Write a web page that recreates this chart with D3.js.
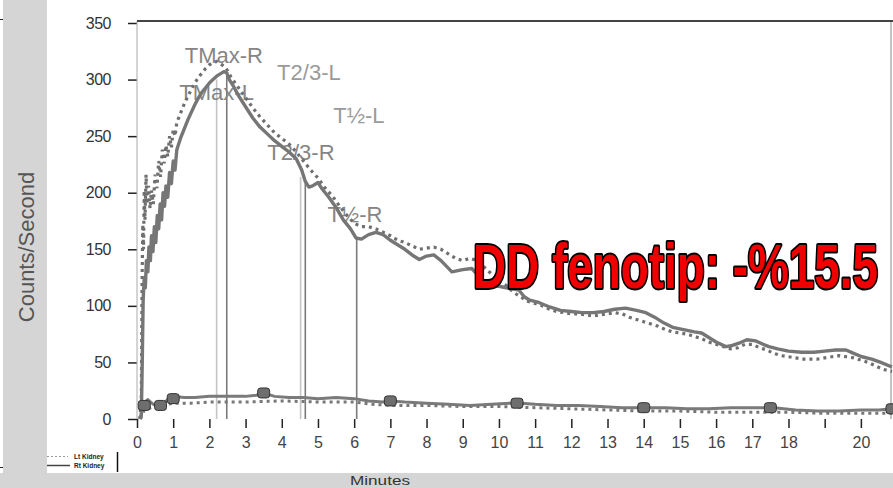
<!DOCTYPE html>
<html>
<head>
<meta charset="utf-8">
<script src="https://cdn.jsdelivr.net/npm/d3@7/dist/d3.min.js"></script>
<style>
  html, body { margin: 0; padding: 0; background: #fff; }
  svg { display: block; }
  .tick text { font-family: "Liberation Sans", Arial, sans-serif; }
</style>
</head>
<body>
<svg id="chart" width="893" height="488"></svg>
<script>
// Renogram: right kidney (solid) and left kidney (dotted), with background curves
const rightKidney = [
  [0.08,0],[0.12,3],[0.15,60],[0.17,105],[0.2,125],[0.23,116],[0.26,140],[0.3,130],[0.33,152],[0.37,140],
  [0.4,162],[0.44,148],[0.48,170],[0.52,156],[0.56,180],[0.6,168],[0.64,190],[0.68,176],[0.72,200],[0.76,188],
  [0.8,206],[0.85,196],[0.9,218],[0.95,208],[1.0,228],[1.05,220],[1.1,238],[1.2,248],[1.3,256],[1.4,264],
  [1.5,271],[1.6,278],[1.7,284],[1.8,289],[1.9,293],[2.0,297],[2.1,300],[2.2,303],[2.3,305],[2.4,307],
  [2.48,306],[2.55,300],[2.65,295],[2.8,286],[3.0,276],[3.2,266],[3.4,258],[3.6,252],[3.8,246],[4.0,241],
  [4.2,236],[4.4,230],[4.55,220],[4.65,210],[4.75,205],[4.85,206],[5.0,209],[5.1,204],[5.3,196],[5.5,187],
  [5.7,176],[5.9,168],[6.05,160],[6.2,159],[6.4,163],[6.6,165],[6.8,163],[7.0,158],[7.2,154],[7.4,150],
  [7.6,145],[7.8,141],[8.0,144],[8.2,145],[8.4,140],[8.7,130],[9.0,132],[9.25,133],[9.45,126],[9.65,120],
  [9.9,118],[10.2,116],[10.55,114],[10.7,108],[10.85,105],[11.1,103],[11.4,99],[11.7,96],[12.0,95],[12.3,94],
  [12.6,94],[12.9,95],[13.2,97],[13.5,98],[13.8,96],[14.06,94],[14.3,90],[14.55,85],[14.8,81],[15.1,79],
  [15.4,77],[15.6,76],[15.8,72],[16.0,68],[16.27,64],[16.45,65],[16.63,67],[16.85,70],[17.1,69],[17.3,66],
  [17.46,64],[17.7,62],[18.0,60],[18.37,59],[18.7,59],[19.0,60],[19.3,61],[19.59,61],[19.8,58],[20.03,55],
  [20.3,53],[20.55,50],[20.86,46]
];
const leftKidney = [
  [0.08,0],[0.12,20],[0.14,120],[0.16,172],[0.18,150],[0.2,202],[0.22,176],[0.25,216],[0.28,190],[0.32,206],
  [0.36,186],[0.4,202],[0.45,190],[0.5,216],[0.55,204],[0.6,228],[0.65,214],[0.7,238],[0.75,226],[0.8,242],
  [0.85,232],[0.9,250],[0.95,240],[1.0,256],[1.05,250],[1.1,262],[1.2,270],[1.3,278],[1.4,285],[1.5,291],
  [1.6,297],[1.7,302],[1.8,306],[1.9,310],[2.0,313],[2.1,315],[2.2,316],[2.3,314],[2.4,312],[2.5,308],
  [2.6,302],[2.8,293],[3.0,284],[3.2,275],[3.4,267],[3.6,260],[3.8,253],[4.0,248],[4.2,243],[4.4,236],
  [4.6,228],[4.8,220],[5.0,213],[5.2,204],[5.4,197],[5.6,188],[5.8,180],[6.0,173],[6.2,170],[6.4,170],
  [6.6,168],[6.8,165],[7.0,162],[7.2,158],[7.4,156],[7.6,153],[7.8,150],[8.0,151],[8.2,152],[8.4,150],
  [8.6,146],[8.8,142],[9.0,140],[9.2,142],[9.4,140],[9.6,134],[9.8,128],[10.0,122],[10.2,118],[10.4,112],
  [10.6,108],[10.8,104],[11.0,102],[11.2,100],[11.4,97],[11.6,95],[11.8,94],[12.0,93],[12.2,93],[12.4,92],
  [12.6,91],[12.8,92],[13.0,93],[13.2,94],[13.4,93],[13.6,90],[13.8,88],[14.0,86],[14.2,84],[14.4,82],
  [14.6,79],[14.8,77],[15.0,76],[15.2,75],[15.4,73],[15.6,71],[15.8,68],[16.0,66],[16.2,64],[16.4,62],
  [16.6,63],[16.8,66],[17.0,66],[17.2,63],[17.4,61],[17.6,58],[17.8,56],[18.0,55],[18.2,54],[18.4,53],
  [18.6,53],[18.8,53],[19.0,54],[19.2,55],[19.4,56],[19.6,55],[19.8,54],[20.0,52],[20.2,50],[20.4,47],
  [20.6,44],[20.86,42]
];
const rightBkg = [
  [0.08,0],[0.12,5],[0.18,14],[0.3,17],[0.45,13],[0.6,11],[0.75,14],[0.9,19],[1.0,20],[1.3,19],
  [1.6,19],[2.0,20],[2.5,20],[3.0,20],[3.3,21],[3.5,23],[3.8,20],[4.2,19],[4.6,19],[5.0,18],
  [5.5,19],[6.0,18],[6.4,16],[6.8,15],[7.0,16],[7.4,15],[8.0,14],[8.6,13],[9.2,12],[9.8,13],
  [10.3,14],[10.6,14],[11.0,13],[11.6,12],[12.2,12],[12.8,11],[13.4,10],[14.0,10],[14.6,10],[15.2,9],
  [15.8,9],[16.4,10],[17.0,10],[17.6,10],[18.2,8],[18.8,7],[19.4,7],[20.0,8],[20.5,8],[20.86,9]
];
const leftBkg = [
  [0.1,0],[0.2,8],[0.4,10],[0.7,12],[1.0,14],[1.5,14],[2.0,15],[3.0,15],[4.0,16],[5.0,15],
  [6.0,15],[6.5,13],[7.0,12],[8.0,12],[9.0,11],[10.0,11],[11.0,10],[12.0,9],[13.0,8],[14.0,7],
  [15.0,7],[16.0,6],[17.0,6],[18.0,6],[19.0,5],[20.0,5],[20.86,5]
];
// square markers on the background curve
const bkgMarkerTimes  = [0.2, 0.65, 1.0, 3.5, 7.0, 10.5, 14.0, 17.5, 20.86];
const bkgMarkerValues = [12, 12, 18, 23, 16, 14, 10, 10, 9];

// time markers: Tmax, T2/3 and T1/2 for each kidney
const timeMarkerNames  = ["TMax-L", "TMax-R", "T2/3-L", "T2/3-R", "T½-R"];
const timeMarkerTimes  = [2.2, 2.48, 4.52, 4.65, 6.07];
const timeMarkerValues = [300, 306, 214, 210, 160];
const timeMarkerSide   = ["L", "R", "L", "R", "R"];

// label anchors (time, counts) for the time-marker captions
const captionTexts  = ["TMax-R", "TMax-L", "T2/3-L", "T½-L", "T2/3-R", "T½-R"];
const captionTimes  = [2.4, 2.2, 4.75, 6.13, 4.53, 6.02];
const captionValues = [315, 282, 300, 262, 229, 174];

const yTicks = [0, 50, 100, 150, 200, 250, 300, 350];
const xTicks = d3.range(0, 21);
const xTickLabels = ["0","1","2","3","4","5","6","7","8","9","10","11","12","13","14","15","16","17","18","","20"];

const legendLabels = ["Lt Kidney", "Rt Kidney"];
const annotation = "DD fenotip: -%15.5";

const svg = d3.select("#chart");
const W = 893, H = 488;
const plot = { left: 137, right: 892, top: 21, bottom: 419 };

const x = d3.scaleLinear().domain([0, 20.86]).range([plot.left, plot.right]);
const y = d3.scaleLinear().domain([0, 350]).range([plot.bottom, 23]);

// window chrome: grey side strip and bottom strip
svg.append("rect").attr("x", 0).attr("y", 0).attr("width", W).attr("height", H).attr("fill", "#fff");
svg.append("rect").attr("x", 3).attr("y", 0).attr("width", 44).attr("height", 473).attr("fill", "#d5d5d5");
svg.append("rect").attr("x", 0).attr("y", 473).attr("width", W).attr("height", 15).attr("fill", "#d5d5d5");
svg.append("line").attr("x1", 0).attr("x2", 3).attr("y1", 19.5).attr("y2", 19.5).attr("stroke", "#222");
svg.append("line").attr("x1", 0).attr("x2", 3).attr("y1", 467.5).attr("y2", 467.5).attr("stroke", "#222");

// clip for plotted curves
svg.append("defs").append("clipPath").attr("id", "plotClip")
  .append("rect").attr("x", plot.left).attr("y", plot.top)
  .attr("width", W - plot.left).attr("height", plot.bottom - plot.top + 2);

// axes
const yAxis = d3.axisLeft(y).tickValues(yTicks).tickSize(9).tickPadding(17);
const gy = svg.append("g").attr("transform", `translate(${plot.left},0)`).call(yAxis);
gy.select(".domain").remove();
gy.selectAll(".tick line").attr("stroke", "#222").attr("stroke-width", 1.5);
gy.selectAll(".tick text").attr("font-size", 16).attr("fill", "#333").attr("letter-spacing", -0.5);

const xAxis = d3.axisBottom(x).tickValues(xTicks).tickSize(9).tickPadding(9)
  .tickFormat((d, i) => xTickLabels[i]);
const gx = svg.append("g").attr("transform", `translate(0,${plot.bottom})`).call(xAxis);
gx.select(".domain").remove();
gx.selectAll(".tick line").attr("stroke", "#222").attr("stroke-width", 1.5);
gx.selectAll(".tick text").attr("font-size", 16).attr("fill", "#444");

// frame
svg.append("line").attr("x1", plot.left).attr("x2", plot.left).attr("y1", plot.top).attr("y2", plot.bottom)
  .attr("stroke", "#aaa").attr("stroke-width", 1);
svg.append("line").attr("x1", plot.right - 1).attr("x2", plot.right - 1).attr("y1", plot.top).attr("y2", plot.bottom)
  .attr("stroke", "#888").attr("stroke-width", 1);
svg.append("line").attr("x1", plot.left).attr("x2", W).attr("y1", plot.top).attr("y2", plot.top)
  .attr("stroke", "#444").attr("stroke-width", 2);

// time marker verticals
svg.append("g").selectAll("line").data(timeMarkerTimes).join("line")
  .attr("x1", d => x(d)).attr("x2", d => x(d))
  .attr("y1", y(0)).attr("y2", (d, i) => y(timeMarkerValues[i]))
  .attr("stroke", (d, i) => timeMarkerSide[i] === "L" ? "#c4c4c4" : "#7a7a7a")
  .attr("stroke-width", 1.6);

// captions
svg.append("g").selectAll("text").data(captionTexts).join("text")
  .attr("x", (d, i) => x(captionTimes[i]))
  .attr("y", (d, i) => y(captionValues[i]))
  .attr("text-anchor", "middle")
  .attr("font-family", "Liberation Sans, Arial, sans-serif")
  .attr("font-size", 22)
  .attr("fill", (d, i) => (i === 2 || i === 3) ? "#9a9a9a" : "#858585")
  .text(d => d);

const line = d3.line().x(d => x(d[0])).y(d => y(d[1]));
const curves = svg.append("g").attr("clip-path", "url(#plotClip)");

// background curves
curves.append("path").datum(leftBkg).attr("d", line).attr("fill", "none")
  .attr("stroke", "#777").attr("stroke-width", 3).attr("stroke-dasharray", "3,4");
curves.append("path").datum(rightBkg).attr("d", line).attr("fill", "none")
  .attr("stroke", "#7a7a7a").attr("stroke-width", 3);

// kidney curves
curves.append("path").datum(leftKidney).attr("d", line).attr("fill", "none")
  .attr("stroke", "#6f6f6f").attr("stroke-width", 3.2).attr("stroke-dasharray", "3,4");
curves.append("path").datum(rightKidney).attr("d", line).attr("fill", "none")
  .attr("stroke", "#767676").attr("stroke-width", 3.4).attr("stroke-linejoin", "round");

// background markers
curves.append("g").selectAll("rect").data(bkgMarkerTimes).join("rect")
  .attr("x", d => x(d) - 6).attr("y", (d, i) => y(bkgMarkerValues[i]) - 5)
  .attr("width", 12).attr("height", 10).attr("rx", 3)
  .attr("fill", "#6e6e6e").attr("stroke", "#333").attr("stroke-width", 1);

// axis titles
svg.append("text").attr("transform", "translate(34,247) rotate(-90)")
  .attr("text-anchor", "middle").attr("font-family", "Liberation Sans, Arial, sans-serif")
  .attr("font-size", 22).attr("fill", "#555").text("Counts/Second");
svg.append("text").attr("x", 350).attr("y", 485)
  .attr("font-family", "Liberation Sans, Arial, sans-serif").attr("font-size", 12)
  .attr("textLength", 60).attr("lengthAdjust", "spacingAndGlyphs")
  .attr("fill", "#333").text("Minutes");

// legend
const legend = svg.append("g");
legend.append("line").attr("x1", 47).attr("x2", 68).attr("y1", 456.5).attr("y2", 456.5)
  .attr("stroke", "#999").attr("stroke-width", 1).attr("stroke-dasharray", "2,2");
legend.append("line").attr("x1", 47).attr("x2", 70).attr("y1", 465.5).attr("y2", 465.5)
  .attr("stroke", "#444").attr("stroke-width", 1.5);
legend.selectAll("text").data(legendLabels).join("text")
  .attr("x", 74).attr("y", (d, i) => 458.5 + i * 9)
  .attr("font-family", "Liberation Sans, Arial, sans-serif").attr("font-size", 6.5)
  .attr("font-weight", "bold").attr("fill", "#222")
  .text(d => d);
legend.append("line").attr("x1", 117.5).attr("x2", 117.5).attr("y1", 452).attr("y2", 472)
  .attr("stroke", "#111").attr("stroke-width", 1.5);

// phenotype annotation, horizontally condensed to fit its slot
const noteWidth = 405;
const note = svg.append("g").attr("transform", "translate(473,288)");
const noteText = note.append("text").attr("x", 0).attr("y", 0)
  .attr("font-family", "Liberation Sans, Arial, sans-serif")
  .attr("font-weight", "bold").attr("font-size", 63)
  .attr("fill", "#f00000").attr("stroke", "#000").attr("stroke-width", 4)
  .attr("stroke-linejoin", "round").attr("paint-order", "stroke")
  .text(annotation);
const naturalWidth = noteText.node().getComputedTextLength();
note.attr("transform", `translate(473,288) scale(${noteWidth / naturalWidth},1)`);
</script>
</body>
</html>
